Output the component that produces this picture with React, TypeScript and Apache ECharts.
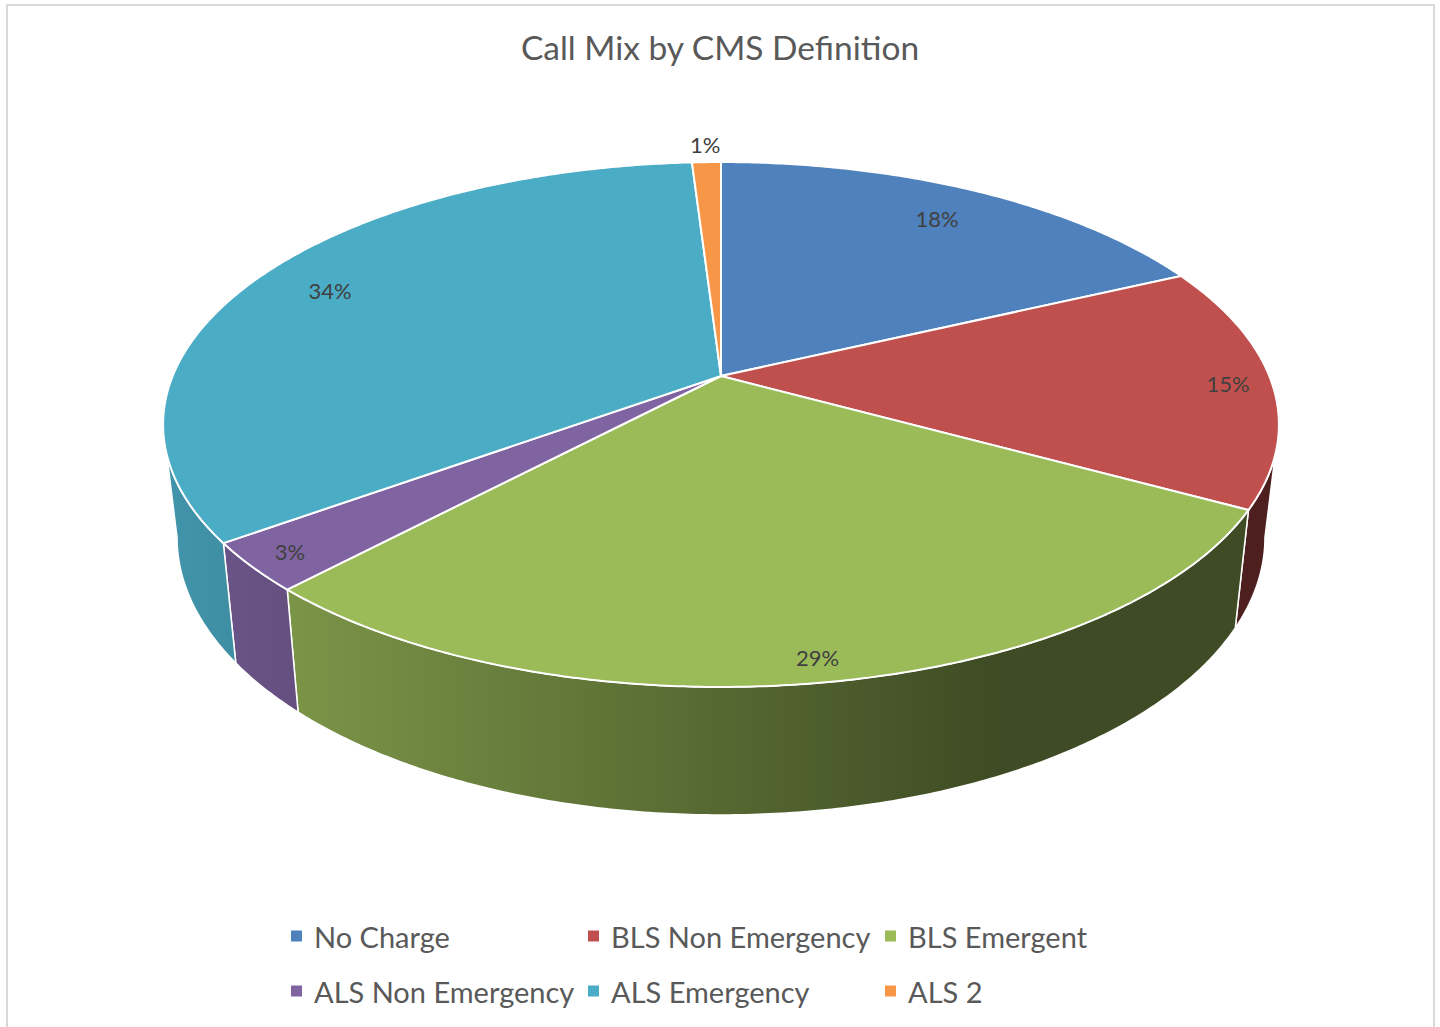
import React, { useEffect, useRef } from 'react';
import * as echarts from 'echarts';

const categories = ['No Charge', 'BLS Non Emergency', 'BLS Emergent', 'ALS Non Emergency', 'ALS Emergency', 'ALS 2'];
const shares = [18, 15, 29, 3, 34, 1];
const colors = ['#4F81BD', '#C0504D', '#9BBB59', '#8064A2', '#4BACC6', '#F79646'];
const titleText = 'Call Mix by CMS Definition';
const legendRow1 = categories.slice(0, 3);
const legendRow2 = categories.slice(3);

const FONT = 'Lato, "Open Sans", sans-serif';

// perspective geometry of the 3D pie
const CX = 721;
const CY = 376;
const RX = 548.3;
const RY = 253.5;
const K = 0.1848;
const DEPTH = 110;
const KD = 0.1405;
const SHRINK = 0.975;
const TH_L = (Math.acos(-K) * 180) / Math.PI;
const TH_R = 360 - TH_L;

function project(deg: number, r: number): [number, number] {
  const t = (deg * Math.PI) / 180;
  const X = r * Math.sin(t);
  const Z = r * Math.cos(t);
  const d = 1 + K * Z;
  return [CX + (RX * X) / d, CY - (RY * Z) / d];
}
function projectBottom(deg: number): [number, number] {
  const t = (deg * Math.PI) / 180;
  const Z = Math.cos(t);
  const d = 1 + KD * Z;
  const [u, v] = project(deg, 1);
  return [CX + (u - CX) * SHRINK, v + DEPTH / d];
}
function shade(hex: string, f: number): string {
  const n = parseInt(hex.slice(1), 16);
  const r = Math.round(((n >> 16) & 255) * f);
  const g = Math.round(((n >> 8) & 255) * f);
  const b = Math.round((n & 255) * f);
  return `rgb(${r},${g},${b})`;
}

export default function App() {
  const ref = useRef<HTMLDivElement>(null);
  useEffect(() => {
    if (!ref.current) return;
    const chart = echarts.init(ref.current, undefined, { renderer: 'svg' });
    const total = shares.reduce((a, b) => a + b, 0);

    const renderItem = (params: any, api: any) => {
      const i = params.seriesIndex;
      const before = shares.slice(0, i).reduce((a, b) => a + b, 0);
      const value = api.value(0);
      const a0 = (before / total) * 360;
      const a1 = ((before + value) / total) * 360;
      const color = colors[i];
      const children: any[] = [];

      const b0 = Math.max(a0, TH_L);
      const b1 = Math.min(a1, TH_R);
      if (b1 > b0) {
        const steps = Math.max(2, Math.ceil((b1 - b0) / 0.5));
        const pts: [number, number][] = [];
        for (let s = 0; s <= steps; s++) pts.push(project(b0 + ((b1 - b0) * s) / steps, 1));
        for (let s = steps; s >= 0; s--) pts.push(projectBottom(b0 + ((b1 - b0) * s) / steps));
        children.push({
          type: 'polygon',
          z2: 1,
          shape: { points: pts },
          style: {
            fill: new echarts.graphic.LinearGradient(
              170, 0, 1000, 0,
              [
                { offset: 0, color: shade(color, 0.86) },
                { offset: 1, color: shade(color, 0.4) },
              ],
              true
            ),
            stroke: '#ffffff',
            lineWidth: 1.5,
            lineJoin: 'round',
          },
        });
      }

      const steps = Math.max(2, Math.ceil((a1 - a0) / 0.5));
      const top: [number, number][] = [[CX, CY]];
      for (let s = 0; s <= steps; s++) top.push(project(a0 + ((a1 - a0) * s) / steps, 1));
      children.push({
        type: 'polygon',
        z2: 10,
        shape: { points: top },
        style: { fill: color, stroke: '#ffffff', lineWidth: 2, lineJoin: 'round' },
      });

      const mid = (a0 + a1) / 2;
      const share = value / total;
      let lx: number;
      let ly: number;
      if (share < 0.02) {
        [lx, ly] = project(mid, 1.1);
      } else {
        const [rx, ry] = project(mid, 1);
        const f = Math.cos((mid * Math.PI) / 180) > 0 ? 0.85 : 0.92;
        lx = CX + (rx - CX) * f;
        ly = CY + (ry - CY) * f;
      }
      children.push({
        type: 'text',
        z2: 20,
        style: {
          text: `${Math.round(share * 100)}%`,
          x: lx,
          y: ly,
          align: 'center',
          verticalAlign: 'middle',
          fill: '#404040',
          fontSize: 22,
          fontFamily: FONT,
        },
      });
      return { type: 'group', children };
    };

    const legendBase = {
      left: 291,
      orient: 'horizontal',
      padding: 0,
      itemGap: 10,
      itemWidth: 11,
      itemHeight: 11,
      icon: 'rect',
      selectedMode: false,
      textStyle: {
        color: '#595959',
        fontSize: 29,
        fontFamily: FONT,
        width: 264,
        lineHeight: 34,
        padding: [0, 0, 0, 7],
      },
    };

    chart.setOption({
      animation: false,
      color: colors,
      backgroundColor: '#ffffff',
      title: {
        text: titleText,
        left: 'center',
        top: 30,
        padding: 0,
        textStyle: { color: '#595959', fontSize: 33.5, fontWeight: 'normal', fontFamily: FONT },
      },
      legend: [
        { ...legendBase, top: 919, data: legendRow1 },
        { ...legendBase, top: 974, data: legendRow2 },
      ],
      graphic: [
        {
          type: 'rect',
          shape: { x: 7, y: 5, width: 1427, height: 1040 },
          style: { fill: 'none', stroke: '#d9d9d9', lineWidth: 2 },
          silent: true,
        },
      ],
      series: categories.map((name, i) => ({
        type: 'custom',
        name,
        coordinateSystem: 'none',
        renderItem,
        itemStyle: { color: colors[i] },
        data: [[shares[i]]],
      })),
    });
    return () => chart.dispose();
  }, []);
  return (
    <div
      ref={ref}
      style={{ position: 'absolute', left: 0, top: 0, width: 1440, height: 1027 }}
    />
  );
}
